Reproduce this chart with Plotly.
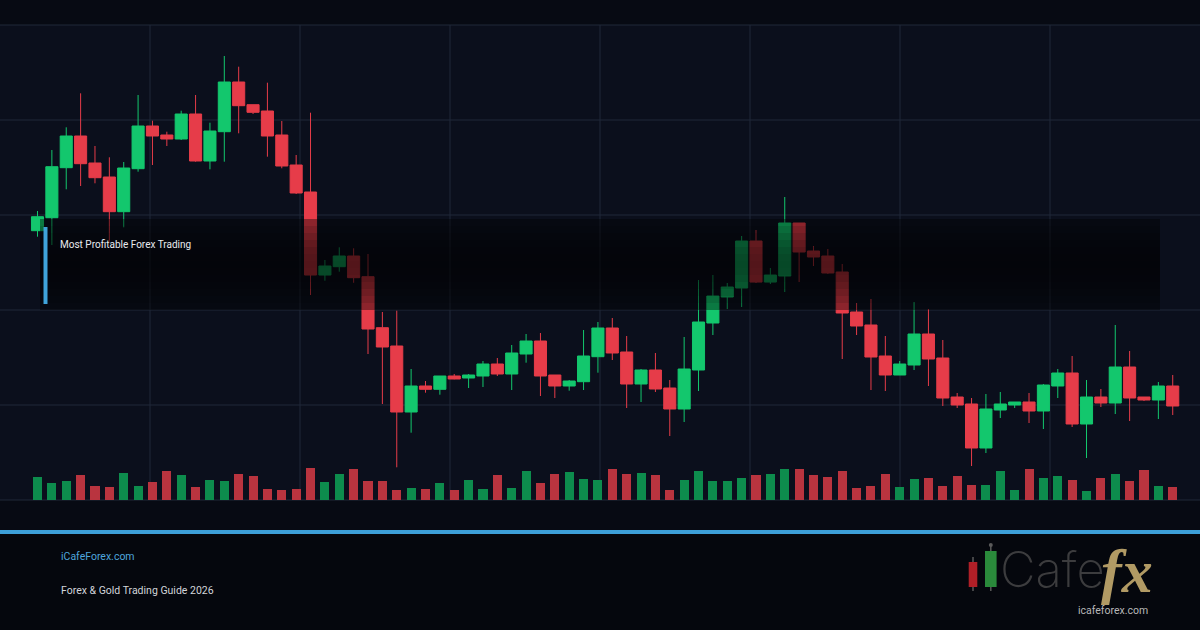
import math
import plotly.graph_objects as go

W, H = 1200, 630

# ---------------- data (price units, volume units) ----------------
opens = [269.3, 282.3, 332.3, 364, 337, 323, 288.3, 331.3, 374, 365,
         361, 386, 339, 368.3, 418, 395.3, 389, 365, 335, 308,
         225, 233.3, 244, 223.3, 172.3, 154, 88, 114, 110.7, 124,
         122, 124, 136, 126, 146, 159, 125, 114, 118.3, 143.3,
         172, 148, 116, 130, 112, 91, 130, 177, 203, 212,
         259, 218, 224, 277, 249, 244, 228, 188, 175, 144,
         125, 135, 166, 142, 103, 96, 52, 90, 95, 98,
         89, 114, 127, 76, 103, 97, 133, 103, 100, 114]
highs = [289, 350, 372.7, 406.7, 354, 342.7, 338, 405, 379.3, 368.3,
         389.3, 405, 377.3, 444, 433.3, 395.3, 417.3, 379, 345, 387.3,
         240, 252.7, 251.7, 246, 188, 189.3, 131, 119, 124, 126,
         126, 139, 142, 155, 166, 167, 125, 120, 170, 178,
         182, 164, 131, 147, 120, 163, 220, 225, 217, 264,
         270, 232, 303, 277, 254, 251, 236, 197, 201, 164,
         139, 198, 191, 160, 107, 102, 106, 108, 98, 107,
         116, 131, 144, 120, 111, 175, 149, 103, 118, 125]
lows = [263.3, 255, 310.7, 314, 316.7, 258.3, 272.7, 328.3, 335, 354,
        360, 338.3, 330.7, 338.3, 366.7, 386, 343.3, 331.7, 306, 205,
        219.3, 228.3, 217.3, 146, 96, 32.7, 67.3, 107.3, 105.3, 120.7,
        112, 113, 124, 110, 137.3, 104, 102, 109.3, 110, 127.3,
        140, 92, 98, 108, 64, 78, 109, 165, 191, 193,
        217, 216, 208, 218, 234, 226, 141, 165, 110, 109,
        125, 130, 114, 94, 92, 34, 47, 82, 92, 77,
        71, 102, 73, 42, 93, 86, 79, 99, 81, 85]
closes = [283.3, 333.3, 364, 336.3, 322.3, 288.3, 332, 374, 364, 361,
          386, 339, 369, 418, 394.3, 387.7, 364, 334, 307, 225,
          234, 244, 222.3, 171, 153, 88, 114, 110.7, 124, 121,
          125, 136, 126, 147, 159, 124, 114, 119, 144, 172,
          147, 116, 130, 111, 91, 131, 178, 204, 213, 259,
          218, 225, 277, 248, 243, 227, 187, 174, 143, 125,
          136, 166, 141, 102, 95, 52, 91, 96, 98, 89,
          115, 127, 76, 103, 97, 133, 102, 100, 114, 94]
volumes = [23, 17, 19, 25, 14, 13, 27, 14, 18, 29,
           25, 13, 20, 19, 26, 24, 11, 10, 11, 32,
           18, 26, 31, 19, 19, 10, 12, 11, 17, 10,
           20, 11, 25, 12, 29, 17, 26, 28, 21, 20,
           31, 26, 27, 25, 10, 20, 29, 19, 19, 22,
           25, 26, 31, 31, 25, 23, 29, 12, 14, 26,
           13, 21, 22, 14, 24, 15, 15, 29, 10, 31,
           22, 24, 20, 9, 22, 26, 19, 30, 14, 13]
idx = list(range(len(opens)))

overlay_title = "Most Profitable Forex Trading"
site_label = "iCafeForex.com"
guide_label = "Forex & Gold Trading Guide 2026"
logo_word = "Cafe"
logo_fx = "fx"
logo_url = "icafeforex.com"

# ---------------- styles ----------------
UP = "#13c76d"
DOWN = "#e63c49"
VOL_UP = "#0d8c4d"
VOL_DOWN = "#b9343f"
PANEL = "#0b0f1c"
PAPER = "#070a13"
GRID = "#212839"
FOOT = "#05070d"
BLUE = "#3d9fd8"


def px(x):
    return x / W


def py(y):
    return 1 - y / H


vol_colors = [VOL_UP if c >= o else VOL_DOWN for o, c in zip(opens, closes)]

fig = go.Figure()
fig.add_trace(go.Bar(x=idx, y=volumes, marker=dict(color=vol_colors, line=dict(width=0)),
                     width=0.63, yaxis="y2", hoverinfo="skip"))
fig.add_trace(go.Candlestick(
    x=idx, open=opens, high=highs, low=lows, close=closes,
    increasing=dict(line=dict(color=UP, width=1), fillcolor=UP),
    decreasing=dict(line=dict(color=DOWN, width=1), fillcolor=DOWN),
    whiskerwidth=0, hoverinfo="skip"))

shapes = []
# chart panel
shapes.append(dict(type="rect", xref="paper", yref="paper", x0=0, x1=1,
                   y0=py(500), y1=py(25), fillcolor=PANEL, line=dict(width=0), layer="below"))
# grid
for gy in [25, 120, 215, 310, 405, 500]:
    shapes.append(dict(type="line", xref="paper", yref="paper", x0=0, x1=1,
                       y0=py(gy), y1=py(gy), line=dict(color=GRID, width=1), layer="below"))
for gx in [150, 300, 450, 600, 750, 900, 1050]:
    shapes.append(dict(type="line", xref="paper", yref="paper", x0=px(gx), x1=px(gx),
                       y0=py(500), y1=py(25), line=dict(color=GRID, width=1), layer="below"))
# footer
shapes.append(dict(type="rect", xref="paper", yref="paper", x0=0, x1=1, y0=0, y1=py(534),
                   fillcolor=FOOT, line=dict(width=0), layer="below"))
shapes.append(dict(type="rect", xref="paper", yref="paper", x0=0, x1=1, y0=py(534), y1=py(530),
                   fillcolor=BLUE, line=dict(width=0), layer="above"))
# overlay band with vertical gradient (integer-pixel strips)
top, n, step = 219, 13, 7
for k in range(n):
    t = (k + 0.5) / n
    a = 0.36 + 0.28 * math.sin(math.pi * t)
    shapes.append(dict(type="rect", xref="paper", yref="paper", x0=px(40), x1=px(1160),
                       y0=py(top + (k + 1) * step), y1=py(top + k * step),
                       fillcolor=f"rgba(0,0,0,{a:.3f})", line=dict(width=0), layer="above"))
shapes.append(dict(type="rect", xref="paper", yref="paper", x0=px(43.5), x1=px(47.5),
                   y0=py(304), y1=py(227), fillcolor="#3fa3d9", line=dict(width=0), layer="above"))
# logo candles
shapes.append(dict(type="line", xref="paper", yref="paper", x0=px(973), x1=px(973),
                   y0=py(591), y1=py(557), line=dict(color="#5a5a5a", width=1.5), layer="above"))
shapes.append(dict(type="rect", xref="paper", yref="paper", x0=px(968.7), x1=px(977.3),
                   y0=py(587), y1=py(562), fillcolor="#b01f27", line=dict(width=0), layer="above"))
shapes.append(dict(type="line", xref="paper", yref="paper", x0=px(990.8), x1=px(990.8),
                   y0=py(591), y1=py(545), line=dict(color="#5a5a5a", width=1.5), layer="above"))
shapes.append(dict(type="circle", xref="paper", yref="paper", x0=px(988.8), x1=px(992.8),
                   y0=py(547), y1=py(543), fillcolor="#5a5a5a", line=dict(width=0), layer="above"))
shapes.append(dict(type="rect", xref="paper", yref="paper", x0=px(985), x1=px(996.6),
                   y0=py(587), y1=py(551), fillcolor="#2a8a3b", line=dict(width=0), layer="above"))

ann = []
ann.append(dict(text=overlay_title, x=px(58), y=py(245), xanchor="left", yanchor="middle",
                font=dict(family="Roboto", size=10, color="#e8eaee")))
ann.append(dict(text=site_label, x=px(58.5), y=py(556), xanchor="left", yanchor="middle",
                font=dict(family="Roboto", size=10.5, color="#4ea5dc")))
ann.append(dict(text=guide_label, x=px(58.5), y=py(590), xanchor="left", yanchor="middle",
                font=dict(family="Roboto", size=10.5, color="#d2d5da")))
ann.append(dict(text=logo_word, x=px(998), y=py(569), xanchor="left", yanchor="middle",
                font=dict(family="Inter", size=49, color="#3c3c3e", weight=200)))
ann.append(dict(text=f"<i><b>{logo_fx}</b></i>", x=px(1099), y=py(571), xanchor="left", yanchor="middle",
                font=dict(family="Liberation Serif", size=62, color="#b19a64")))
ann.append(dict(text=logo_url, x=px(1112.5), y=py(610), xanchor="center", yanchor="middle",
                font=dict(family="Roboto", size=10.5, color="#b8b8b8")))
for a_ in ann:
    a_.update(xref="paper", yref="paper", showarrow=False)

# pixel-aligned axes: candle i centred at 37.5 + 14.37*i px
spacing = 14.37
first = 37.5
fig.update_layout(
    width=W, height=H, margin=dict(l=0, r=0, t=0, b=0, pad=0),
    paper_bgcolor=PAPER, plot_bgcolor="rgba(0,0,0,0)",
    showlegend=False, boxgap=0.16, boxgroupgap=0, bargap=0,
    xaxis=dict(range=[-first / spacing, (W - first) / spacing], visible=False,
               showgrid=False, zeroline=False, rangeslider=dict(visible=False), fixedrange=True),
    yaxis=dict(domain=[py(500), py(25)], range=[0, 475], visible=False, showgrid=False,
               zeroline=False, fixedrange=True),
    yaxis2=dict(overlaying="y", range=[0, 475], visible=False, showgrid=False, zeroline=False,
                fixedrange=True),
    shapes=shapes, annotations=ann,
)

fig.write_html("out.html")
